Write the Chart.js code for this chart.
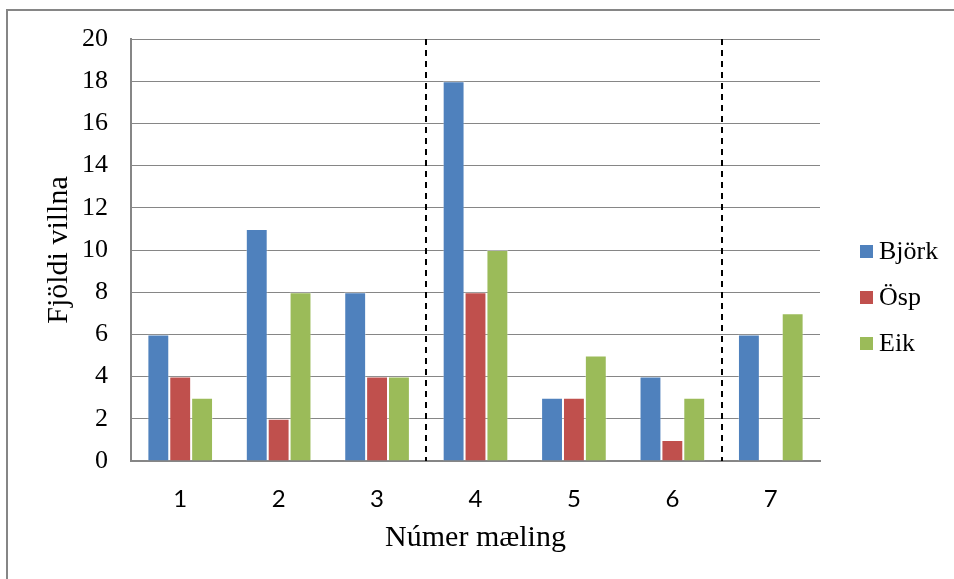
<!DOCTYPE html>
<html>
<head>
<meta charset="utf-8">
<script src="https://cdn.jsdelivr.net/npm/chart.js@4"></script>
<style>
  html, body { margin: 0; padding: 0; background: #fff; }
  canvas { display: block; }
</style>
</head>
<body>
<canvas id="chart" width="954" height="579"></canvas>
<script>
// Measurement numbers on the x axis
const categories = ['1', '2', '3', '4', '5', '6', '7'];

// Number of errors per tree species
const bjork = [6, 11, 8, 18, 3, 4, 6];
const osp   = [4, 2, 4, 8, 3, 1, 0];
const eik   = [3, 8, 4, 10, 5, 3, 7];

const seriesNames = ['Björk', 'Ösp', 'Eik'];

// Value axis range and tick step
const yMin = 0;
const yMax = 20;
const yStep = 2;

// Dashed separators are drawn after these categories
const dividersAfter = ['3', '6'];

const colors = ['#4F81BD', '#C0504D', '#9BBB59'];
const axisGray = '#868686';

// White background plus the outer frame of the chart object
const framePlugin = {
  id: 'frame',
  beforeDraw(chart) {
    const ctx = chart.ctx;
    ctx.save();
    ctx.fillStyle = '#fff';
    ctx.fillRect(0, 0, chart.width, chart.height);
    ctx.strokeStyle = axisGray;
    ctx.lineWidth = 2;
    ctx.beginPath();
    ctx.moveTo(7, chart.height);
    ctx.lineTo(7, 10);
    ctx.lineTo(chart.width, 10);
    ctx.stroke();
    ctx.restore();
  }
};

// Vertical dashed lines between groups of measurements
const dividerPlugin = {
  id: 'dividers',
  afterDatasetsDraw(chart) {
    const x = chart.scales.x;
    const area = chart.chartArea;
    const ctx = chart.ctx;
    ctx.save();
    ctx.strokeStyle = '#000';
    ctx.lineWidth = 2;
    ctx.setLineDash([6, 5]);
    dividersAfter.forEach(cat => {
      const i = categories.indexOf(cat);
      const px = Math.round((x.getPixelForValue(i) + x.getPixelForValue(i + 1)) / 2);
      ctx.beginPath();
      ctx.moveTo(px, area.top);
      ctx.lineTo(px, area.bottom);
      ctx.stroke();
    });
    ctx.restore();
  }
};

// Legend at the right, built from the datasets
const sideLegendPlugin = {
  id: 'sideLegend',
  afterDraw(chart) {
    const ctx = chart.ctx;
    ctx.save();
    ctx.font = '26px "Liberation Serif", "Times New Roman", serif';
    ctx.textBaseline = 'middle';
    ctx.textAlign = 'left';
    const boxX = 860, box = 13, rowStart = 251.5, rowGap = 46;
    chart.data.datasets.forEach((ds, i) => {
      const cy = rowStart + i * rowGap;
      ctx.fillStyle = ds.backgroundColor;
      ctx.fillRect(boxX, cy - box / 2, box, box);
      ctx.fillStyle = '#000';
      ctx.fillText(ds.label, boxX + box + 6, cy + 1);
    });
    ctx.restore();
  }
};

new Chart(document.getElementById('chart'), {
  type: 'bar',
  data: {
    labels: categories,
    datasets: [bjork, osp, eik].map((values, i) => ({
      label: seriesNames[i],
      data: values,
      backgroundColor: colors[i],
      borderColor: 'rgba(255,255,255,0.35)',
      borderWidth: 1,
      categoryPercentage: 0.667,
      barPercentage: 1.0
    }))
  },
  options: {
    responsive: false,
    animation: false,
    layout: { padding: { top: 39, right: 134, bottom: 0, left: 0 } },
    plugins: {
      legend: { display: false },
      tooltip: { enabled: false }
    },
    scales: {
      x: {
        grid: { display: false, drawTicks: false },
        border: { display: true, color: axisGray, width: 2 },
        ticks: {
          color: '#000',
          padding: 24,
          font: { family: 'Lato, "Open Sans", sans-serif', size: 24 }
        },
        title: {
          display: true,
          text: 'Númer mæling',
          color: '#000',
          padding: { top: 0, bottom: 23 },
          font: { family: '"Liberation Serif", "Times New Roman", serif', size: 30 }
        },
        afterFit(scale) { scale.height = 118; }
      },
      y: {
        min: yMin,
        max: yMax,
        ticks: {
          stepSize: yStep,
          color: '#000',
          padding: 23,
          font: { family: '"Liberation Serif", "Times New Roman", serif', size: 26 }
        },
        grid: { color: axisGray, lineWidth: 1, drawTicks: false },
        border: { display: true, color: axisGray, width: 2 },
        title: {
          display: true,
          text: 'Fjöldi villna',
          color: '#000',
          padding: { top: 41, bottom: 0 },
          font: { family: '"Liberation Serif", "Times New Roman", serif', size: 30 }
        },
        afterFit(scale) { scale.width = 131; }
      }
    }
  },
  plugins: [framePlugin, dividerPlugin, sideLegendPlugin]
});
</script>
</body>
</html>
